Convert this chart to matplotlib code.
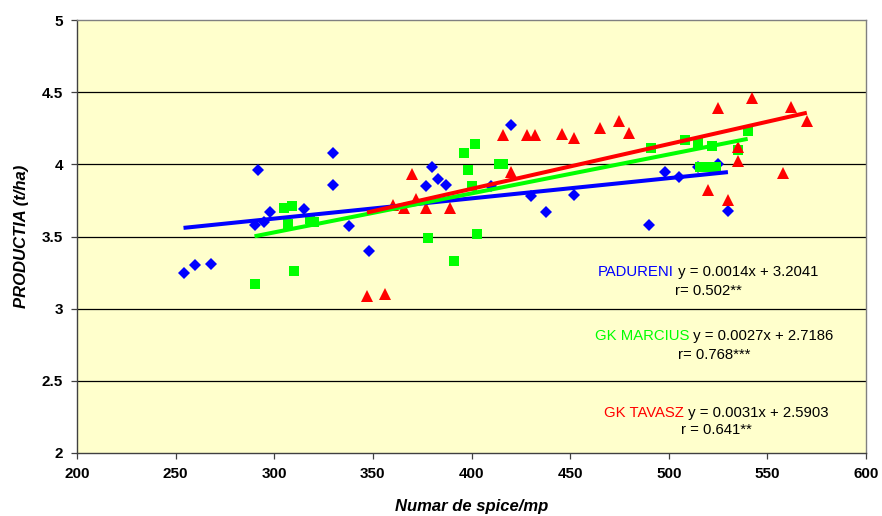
import matplotlib
matplotlib.use("Agg")
import matplotlib.pyplot as plt
import numpy as np

plt.rcParams['font.family'] = ['Liberation Sans', 'DejaVu Sans']

# ---------------- data ----------------
padureni_x = [254, 260, 268, 290, 292, 295, 298, 315, 330, 330, 338, 348,
              377, 380, 383, 387, 410, 420, 430, 438, 452, 490, 498, 505,
              515, 525, 530]
padureni_y = [3.25, 3.30, 3.31, 3.58, 3.96, 3.60, 3.67, 3.69, 4.08, 3.86, 3.57, 3.40,
              3.85, 3.98, 3.90, 3.86, 3.85, 4.27, 3.78, 3.67, 3.79, 3.58, 3.95, 3.91,
              3.98, 4.00, 3.68]

marcius_x = [290, 305, 307, 309, 310, 318, 320, 378, 391, 396, 398, 400,
             402, 403, 414, 416, 491, 508, 515, 516, 520, 522, 524, 535, 540]
marcius_y = [3.17, 3.70, 3.59, 3.71, 3.26, 3.62, 3.60, 3.49, 3.33, 4.08, 3.96, 3.85,
             4.14, 3.52, 4.00, 4.00, 4.11, 4.17, 4.15, 3.98, 3.98, 4.13, 3.98, 4.10, 4.23]

tavasz_x = [347, 356, 360, 366, 370, 372, 377, 389, 416, 420, 428, 432,
            446, 452, 465, 475, 480, 520, 525, 530, 535, 535, 542, 558, 562, 570]
tavasz_y = [3.09, 3.10, 3.72, 3.70, 3.93, 3.76, 3.70, 3.70, 4.20, 3.95, 4.20, 4.20,
            4.21, 4.18, 4.25, 4.30, 4.22, 3.82, 4.39, 3.75, 4.12, 4.02, 4.46, 3.94, 4.40, 4.30]

series_names = ["PADURENI", "GK MARCIUS", "GK TAVASZ"]
slopes = [0.0014, 0.0027, 0.0031]
intercepts = [3.2041, 2.7186, 2.5903]
eq_texts = ["y = 0.0014x + 3.2041", "y = 0.0027x + 2.7186", "y = 0.0031x + 2.5903"]
r_texts = ["r= 0.502**", "r= 0.768***", "r = 0.641**"]

x_ticks = [200, 250, 300, 350, 400, 450, 500, 550, 600]
y_ticks = [2, 2.5, 3, 3.5, 4, 4.5, 5]
y_tick_labels = ["2", "2.5", "3", "3.5", "4", "4.5", "5"]

colors = ["#0000FF", "#00FF00", "#FF0000"]
markers = ["D", "s", "^"]
msizes = [6.5, 7.5, 8]

# ---------------- figure ----------------
W, H = 882, 516
fig = plt.figure(figsize=(W / 100, H / 100), dpi=100)
L, R, T, B = 77, 866, 20, 453
ax = fig.add_axes([L / W, 1 - B / H, (R - L) / W, (B - T) / H])
ax.set_facecolor("#FFFFCC")
ax.set_xlim(200, 600)
ax.set_ylim(2, 5)

for yv in y_ticks[1:-1]:
    ax.axhline(yv, color="black", lw=0.9, zorder=1)

all_x = [padureni_x, marcius_x, tavasz_x]
all_y = [padureni_y, marcius_y, tavasz_y]

for xs, ys, c, m, ms in zip(all_x, all_y, colors, markers, msizes):
    ax.plot(xs, ys, linestyle="none", marker=m, ms=ms, color=c,
            markeredgewidth=0, zorder=3)

for xs, a, b, c in zip(all_x, slopes, intercepts, colors):
    xx = np.array([min(xs), max(xs)])
    ax.plot(xx, a * xx + b, color=c, lw=2.9, solid_capstyle="butt", zorder=4)

ax.set_xticks(x_ticks)
ax.set_xticklabels([str(v) for v in x_ticks])
ax.set_yticks(y_ticks)
ax.set_yticklabels(y_tick_labels)
ax.tick_params(axis="both", direction="out", length=4, width=0.9, color="#404040",
               labelsize=11, pad=6)
for lab in ax.get_xticklabels() + ax.get_yticklabels():
    lab.set_fontweight("bold")

for s in ["left", "bottom"]:
    ax.spines[s].set_color("#404040")
    ax.spines[s].set_linewidth(1.0)
for s in ["top", "right"]:
    ax.spines[s].set_color("#808080")
    ax.spines[s].set_linewidth(1.0)

ax.set_xlabel("Numar de spice/mp", fontsize=12, fontweight="bold", style="italic", labelpad=13)
ax.set_ylabel("PRODUCTIA (t/ha)", fontsize=12, fontweight="bold", style="italic", labelpad=9)

# ---------------- annotations ----------------
ann_x = [520, 523, 524]
ann_y1 = [3.255, 2.81, 2.28]
ann_y2 = [3.125, 2.68, 2.16]
fs = 10.7
fig.canvas.draw()
renderer = fig.canvas.get_renderer()
for name, eq, rt, c, x, y1, y2 in zip(series_names, eq_texts, r_texts, colors, ann_x, ann_y1, ann_y2):
    t1 = ax.text(x, y1, name, color=c, fontsize=fs, ha="left", va="center", zorder=5)
    t2 = ax.text(x, y1, " " + eq, color="black", fontsize=fs, ha="left", va="center", zorder=5)
    w1 = t1.get_window_extent(renderer).width
    w2 = t2.get_window_extent(renderer).width
    cx = ax.transData.transform((x, y1))[0]
    start = cx - (w1 + w2) / 2
    inv = ax.transData.inverted()
    t1.set_x(inv.transform((start, 0))[0])
    t2.set_x(inv.transform((start + w1, 0))[0])
    ax.text(x, y2, rt, color="black", fontsize=fs, ha="center", va="center", zorder=5)

fig.savefig("out.png", dpi=100, facecolor="white")
